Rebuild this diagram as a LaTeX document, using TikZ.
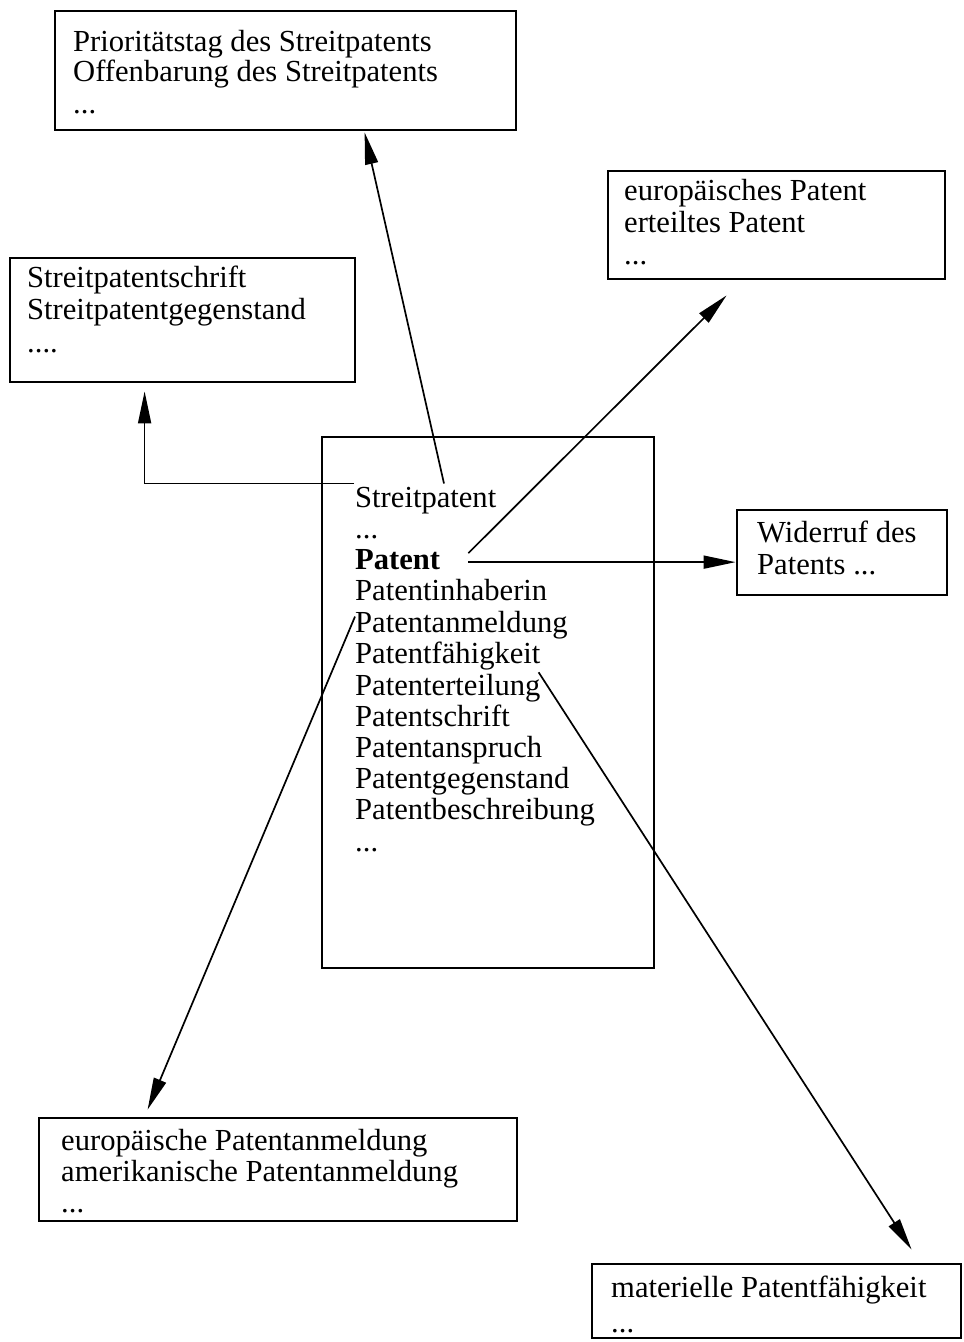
\documentclass[tikz,border=0pt]{standalone}
\usepackage{fontspec}
\setmainfont{Liberation Serif}
\usetikzlibrary{arrows.meta,calc}
\begin{document}
\begin{tikzpicture}[x=1pt,y=-1pt,
  box/.style={draw,line width=2.8pt,inner sep=0pt,rectangle},
  txt/.style={anchor=base west,inner sep=0pt,font=\fontsize{30.6}{31}\selectfont},
  conn/.style={line width=1.7pt},
  arr/.style={conn,-{Triangle[length=32pt,width=13pt]}}]
\useasboundingbox (0,0) rectangle (964,1342);
% boxes
\node[box,minimum width=461pt,minimum height=119pt] (topbox) at (285.5,70.5) {};
\node[box,minimum width=337pt,minimum height=108pt] (eubox) at (776.5,225) {};
\node[box,minimum width=345pt,minimum height=124pt] (spsbox) at (182.5,320) {};
\node[box,minimum width=332pt,minimum height=531pt] (central) at (488,702.5) {};
\node[box,minimum width=210pt,minimum height=85pt] (widbox) at (842,552.5) {};
\node[box,minimum width=478pt,minimum height=103pt] (eabox) at (278,1169.5) {};
\node[box,minimum width=369pt,minimum height=74pt] (matbox) at (776.5,1301) {};
% texts top box
\node[txt] (ta) at (73,51) {Prioritätstag des Streitpatents};
\node[txt] (tb) at (73,81) {Offenbarung des Streitpatents};
\node[txt] (tc) at (73,113) {...};
% eu box
\node[txt] (ea) at (624,200) {europäisches Patent};
\node[txt] (eb) at (624,232) {erteiltes Patent};
\node[txt] (ec) at (624,264) {...};
% sps box
\node[txt] (sa) at (27,287) {Streitpatentschrift};
\node[txt] (sb) at (27,319) {Streitpatentgegenstand};
\node[txt] (sc) at (27,352) {....};
% central
\node[txt] (c1) at (355,507) {Streitpatent};
\node[txt] (c2) at (355,538) {...};
\node[txt,font=\fontsize{30.6}{31}\selectfont\bfseries] (c3) at (355,569) {Patent};
\node[txt] (c4) at (355,600) {Patentinhaberin};
\node[txt] (c5) at (355,632) {Patentanmeldung};
\node[txt] (c6) at (355,663.5) {Patentfähigkeit};
\node[txt] (c7) at (355,695) {Patenterteilung};
\node[txt] (c8) at (355,726) {Patentschrift};
\node[txt] (c9) at (355,757) {Patentanspruch};
\node[txt] (c10) at (355,788) {Patentgegenstand};
\node[txt] (c11) at (355,819) {Patentbeschreibung};
\node[txt] (c12) at (355,851) {...};
% widerruf
\node[txt] (wa) at (757,542) {Widerruf des};
\node[txt] (wb) at (757,574) {Patents ...};
% ea box
\node[txt] (aa) at (61,1150) {europäische Patentanmeldung};
\node[txt] (ab) at (61,1181) {amerikanische Patentanmeldung};
\node[txt] (ac) at (61,1212) {...};
% mat box
\node[txt] (ma) at (611,1297) {materielle Patentfähigkeit};
\node[txt] (mb) at (611,1332) {...};
% connector coordinates
\coordinate (s1) at ($(c1.north west)+(89,-3)$);
\coordinate (t1) at ($(topbox.south west)+(311,1)$);
\coordinate (s2) at ($(c1.north west)+(-1,-3)$);
\coordinate (t2) at ($(spsbox.south west)+(136,8)$);
\coordinate (s3) at ($(c3.east)+(28,-6)$);
\coordinate (t3) at ($(eubox.south west)+(120,15)$);
\coordinate (s4) at ($(c3.east)+(28,3)$);
\coordinate (s5) at ($(c5.north west)+(0,6)$);
\coordinate (t5) at ($(eabox.north west)+(110,-7)$);
\coordinate (s6) at ($(c6.south east)+(-2,2)$);
\coordinate (t6) at ($(matbox.north west)+(321,-13)$);
% connectors
\draw[arr] (s1) -- (t1);
\draw[arr] (s2) -- (s2 -| t2) -- (t2);
\draw[arr] (s3) -- (t3);
\draw[arr] (s4) -- (s4 -| widbox.west);
\draw[arr] (s5) -- (t5);
\draw[arr] (s6) -- (t6);
\end{tikzpicture}
\end{document}
